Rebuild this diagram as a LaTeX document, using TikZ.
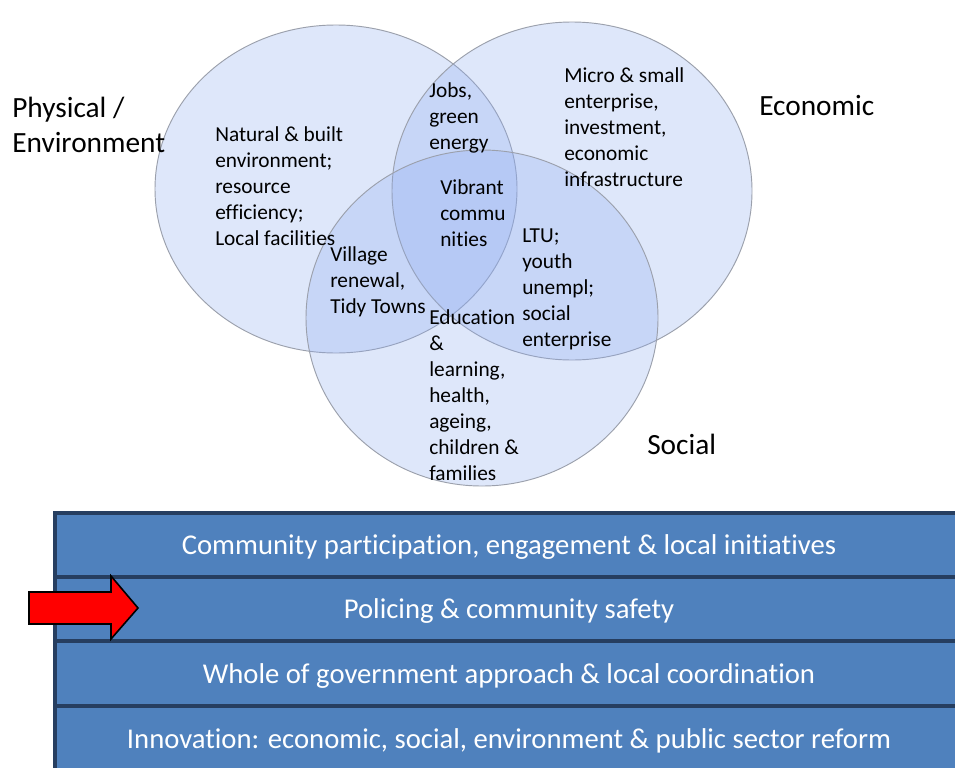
\documentclass[tikz,border=0pt]{standalone}
\usepackage{fontspec}
\setmainfont{Carlito}[Ligatures=CommonOff]
\definecolor{circfill}{RGB}{140,170,240}
\definecolor{circline}{RGB}{155,160,172}
\definecolor{barfill}{RGB}{79,129,189}
\definecolor{barline}{RGB}{38,62,96}
\begin{document}
\begin{tikzpicture}[x=0.75pt,y=-0.75pt,
  venn/.style={fill=circfill,fill opacity=0.28,draw=circline,draw opacity=1,line width=0.7pt},
  intext/.style={anchor=west,align=left,inner sep=0pt,font=\fontsize{16}{19.5}\selectfont},
  biglabel/.style={anchor=west,align=left,inner sep=0pt,font=\fontsize{22}{26}\selectfont},
  bar/.style={fill=barfill,draw=barline,line width=3pt},
  bartext/.style={text=white,inner sep=0pt,font=\fontsize{21.5}{24}\selectfont}]
\useasboundingbox (0,0) rectangle (955,767);
\fill[white] (0,0) rectangle (955,767);
% Venn
\path[venn] (336,189) ellipse [x radius=135.75pt, y radius=123pt];
\path[venn] (572,191) ellipse [x radius=135pt, y radius=126.75pt];
\path[venn] (482,318) ellipse [x radius=132pt, y radius=126pt];
% labels
\node[biglabel] (phys) at (12,125) {Physical /\\Environment};
\node[biglabel] (econ) at (759,106) {Economic};
\node[biglabel] (soc) at (647,444) {Social};
% circle texts
\node[intext] (nat) at (215,186) {Natural \& built\\environment;\\resource\\efficiency;\\Local facilities};
\node[intext] (jobs) at (429,118) {Jobs,\\green\\energy};
\node[intext] (micro) at (564,127) {Micro \& small\\enterprise,\\investment,\\economic\\infrastructure};
\node[intext] (vib) at (440,213) {Vibrant\\commu\\nities};
\node[intext] (vil) at (330,282) {Village\\renewal,\\Tidy Towns};
\node[intext] (ltu) at (522,289) {LTU;\\youth\\unempl;\\social\\enterprise};
\node[intext] (edu) at (429,395) {Education\\\&\\learning,\\health,\\ageing,\\children \&\\families};
% bars
\begin{scope}
\clip (0,0) rectangle (955,767);
\draw[bar] (55,513) rectangle (968,577);
\draw[bar] (55,577) rectangle (968,641);
\draw[bar] (55,641) rectangle (968,706);
\draw[bar] (55,706) rectangle (968,775);
\end{scope}
\node[bartext] (b1) at (509,547) {Community participation, engagement \& local initiatives};
\node[bartext] (b2) at (509,611) {Policing \& community safety};
\node[bartext] (b3) at (509,676) {Whole of government approach \& local coordination};
\node[bartext] (b4) at (509,741) {Innovation: economic, social, environment \& public sector reform};
% red arrow
\draw[fill=red,draw=black,line width=1.2pt,line join=miter]
  (29,592) -- (111,592) -- (111,576) -- (138,608) -- (111,639) -- (111,624) -- (29,624) -- cycle;
\end{tikzpicture}
\end{document}
